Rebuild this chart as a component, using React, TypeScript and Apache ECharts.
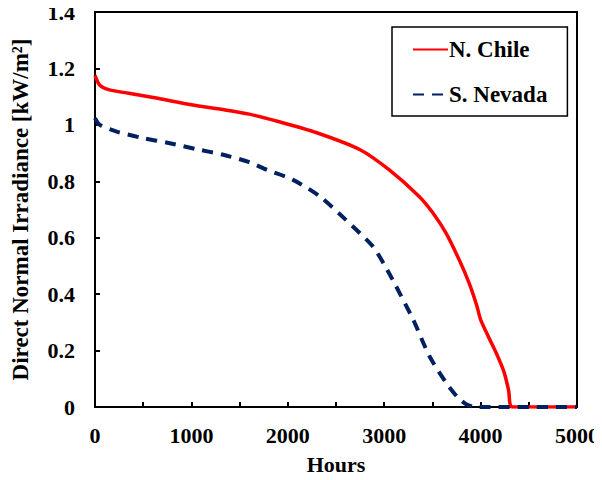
import React, { useEffect, useRef } from "react";
import * as echarts from "echarts";

// Direct normal irradiance duration curves, [hours, kW/m²]
const chileHours = [0, 50, 150, 350, 650, 1000, 1350, 1600, 1900, 2300, 2750, 3050, 3360, 3500, 3640, 3780, 3880, 3960, 4000, 4080, 4160, 4245, 4290, 4330, 5000];
const chileDni = [1.175, 1.14, 1.124, 1.112, 1.094, 1.071, 1.053, 1.038, 1.012, 0.972, 0.912, 0.841, 0.747, 0.69, 0.617, 0.52, 0.44, 0.36, 0.31, 0.25, 0.193, 0.122, 0.06, 0, 0];

const nevadaHours = [0, 50, 225, 500, 775, 1050, 1330, 1600, 1780, 2050, 2330, 2600, 2880, 3000, 3120, 3300, 3470, 3640, 3760, 3850, 3950, 5000];
const nevadaDni = [1.024, 1.0, 0.976, 0.953, 0.935, 0.914, 0.894, 0.868, 0.841, 0.806, 0.747, 0.664, 0.57, 0.505, 0.43, 0.31, 0.18, 0.087, 0.035, 0.01, 0, 0];

const seriesNames = ["N. Chile", "S. Nevada"];

const FONT = "'Liberation Serif', 'Times New Roman', serif";

const pair = (xs: number[], ys: number[]) => xs.map((x, i) => [x, ys[i]]);

export default function App() {
  const ref = useRef<HTMLDivElement>(null);

  useEffect(() => {
    if (!ref.current) return;
    const chart = echarts.init(ref.current, undefined, { renderer: "svg" });
    const labelStyle = { fontFamily: FONT, fontWeight: "bold" as const, fontSize: 22, color: "#000" };
    chart.setOption({
      animation: false,
      grid: {
        left: 95,
        right: 23,
        top: 12,
        bottom: 72,
        show: true,
        borderColor: "#000",
        borderWidth: 2,
        backgroundColor: "transparent",
      },
      legend: {
        orient: "vertical",
        left: 392,
        top: 27,
        width: 175,
        padding: [11, 20, 10, 20],
        itemGap: 22,
        itemWidth: 35,
        itemHeight: 14,
        borderColor: "#000",
        borderWidth: 1.5,
        itemStyle: { opacity: 0 },
        textStyle: { ...labelStyle, fontSize: 23, padding: [0, 0, 0, -4] },
        data: seriesNames,
      },
      xAxis: {
        type: "value",
        min: 0,
        max: 5000,
        interval: 1000,
        name: "Hours",
        nameLocation: "middle",
        nameGap: 46,
        nameTextStyle: { ...labelStyle },
        axisLine: { lineStyle: { color: "#000", width: 2 } },
        axisTick: { inside: true, length: 5, lineStyle: { color: "#000", width: 2 } },
        minorTick: { show: true, splitNumber: 2, length: 5, lineStyle: { color: "#000", width: 2 } },
        splitLine: { show: false },
        axisLabel: { ...labelStyle, margin: 17, formatter: (v: number) => String(v) },
      },
      yAxis: {
        type: "value",
        min: 0,
        max: 1.4,
        interval: 0.2,
        name: "Direct Normal Irradiance [kW/m²]",
        nameLocation: "middle",
        nameGap: 63,
        nameTextStyle: { ...labelStyle, fontSize: 23 },
        axisLine: { lineStyle: { color: "#000", width: 2 } },
        axisTick: { inside: true, length: 5, lineStyle: { color: "#000", width: 2 } },
        splitLine: { show: false },
        axisLabel: {
          ...labelStyle,
          margin: 20,
          formatter: (v: number) => String(Math.round(v * 10) / 10),
        },
      },
      series: [
        {
          name: seriesNames[0],
          type: "line",
          symbol: "none",
          smooth: 0.25,
          data: pair(chileHours, chileDni),
          lineStyle: { color: "#FF0000", width: 3.5 },
          itemStyle: { color: "#FF0000" },
        },
        {
          name: seriesNames[1],
          type: "line",
          symbol: "none",
          smooth: 0.25,
          data: pair(nevadaHours, nevadaDni),
          lineStyle: { color: "#002060", width: 4, type: [11, 8] },
          itemStyle: { color: "#002060" },
        },
      ],
    });
    return () => chart.dispose();
  }, []);

  return <div ref={ref} style={{ width: 602, height: 480, margin: -8 }} />;
}
